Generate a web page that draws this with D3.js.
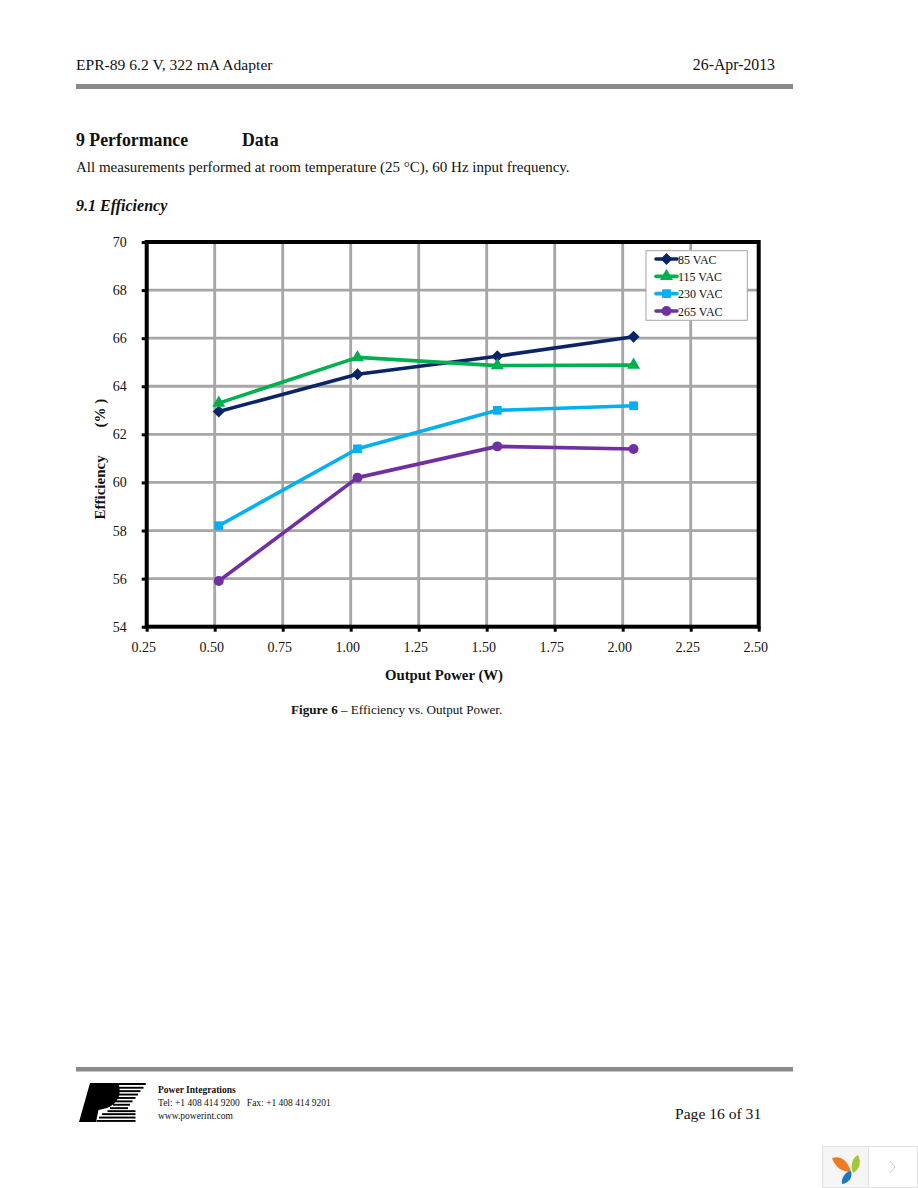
<!DOCTYPE html>
<html>
<head>
<meta charset="utf-8">
<title>EPR-89 Efficiency</title>
<script src="https://cdn.jsdelivr.net/npm/d3@7"></script>
<style>
  html, body { margin: 0; padding: 0; background: #fff; }
  svg { display: block; font-family: "Liberation Serif", serif; }
  text { fill: #111; }
  .grid line { stroke: #a6a6a6; stroke-width: 2.8; }
  .axis path { display: none; }
  .axis line { stroke: #000; stroke-width: 3; }
  .axis text { font-family: "Liberation Serif", serif; font-size: 14px; fill: #111; }
  .series { fill: none; stroke-width: 3.6; stroke-linejoin: round; }
</style>
</head>
<body>
<svg id="page" width="918" height="1188"></svg>
<script>
// values
const outputPower = [0.515, 1.025, 1.539, 2.04];
const vac85 = [62.95, 64.5, 65.25, 66.06];
const vac115 = [63.3, 65.2, 64.86, 64.88];
const vac230 = [58.2, 61.4, 63.0, 63.19];
const vac265 = [55.9, 60.2, 61.5, 61.39];
const seriesNames = ['85 VAC', '115 VAC', '230 VAC', '265 VAC'];
const seriesValues = [vac85, vac115, vac230, vac265];
const seriesColors = ['#0b2468', '#00b050', '#00b0f0', '#7030a0'];
const markerTypes = [d3.symbolSquare, d3.symbolTriangle, d3.symbolSquare, d3.symbolCircle];
const markerSizes = [72, 73, 76, 78];
const markerTurn = [45, 0, 0, 0];
const xTicks = [0.25, 0.5, 0.75, 1, 1.25, 1.5, 1.75, 2, 2.25, 2.5];
const yTicks = [54, 56, 58, 60, 62, 64, 66, 68, 70];

const svg = d3.select('#page');

const plot = { left: 146.7, right: 758.7, top: 242, bottom: 626.7 };
const x = d3.scaleLinear().domain([0.25, 2.5]).range([plot.left, plot.right]);
const y = d3.scaleLinear().domain([54, 70]).range([plot.bottom, plot.top]);

function label(txt, px, py, size, opts) {
  opts = opts || {};
  return svg.append('text').attr('x', px).attr('y', py)
    .attr('font-size', size)
    .attr('font-weight', opts.weight || null)
    .attr('font-style', opts.style || null)
    .attr('text-anchor', opts.anchor || null)
    .text(txt);
}

// page furniture
label('EPR-89 6.2 V, 322 mA Adapter', 76, 70, 15.6);
label('26-Apr-2013', 775, 70, 15.8, { anchor: 'end' });
svg.append('rect').attr('x', 76).attr('y', 84).attr('width', 717).attr('height', 5).attr('fill', '#8a8a8a');
label('9 Performance', 76, 146, 17.8, { weight: 'bold' });
label('Data', 242, 146, 17.8, { weight: 'bold' });
label('All measurements performed at room temperature (25 °C), 60 Hz input frequency.', 76, 172, 15);
label('9.1 Efficiency', 76, 211, 16, { weight: 'bold', style: 'italic' });

// grid
svg.append('g').attr('class', 'grid').selectAll('line').data(xTicks).join('line')
  .attr('x1', d => x(d)).attr('x2', d => x(d)).attr('y1', plot.top).attr('y2', plot.bottom);
svg.append('g').attr('class', 'grid').selectAll('line').data(yTicks).join('line')
  .attr('x1', plot.left).attr('x2', plot.right).attr('y1', d => y(d)).attr('y2', d => y(d));

// axes; the x labels sit a little left of their ticks in the original
svg.append('g').attr('class', 'axis').attr('transform', `translate(0,${plot.bottom})`)
  .call(d3.axisBottom(x).tickValues(xTicks).tickSize(5).tickPadding(10).tickFormat(d3.format('.2f')))
  .selectAll('text').attr('dx', -3.5);
svg.append('g').attr('class', 'axis').attr('transform', `translate(${plot.left},0)`)
  .call(d3.axisLeft(y).tickValues(yTicks).tickSize(5).tickPadding(15).tickFormat(d3.format('d')));

// plot frame
svg.append('rect').attr('x', plot.left).attr('y', plot.top)
  .attr('width', plot.right - plot.left).attr('height', plot.bottom - plot.top)
  .attr('fill', 'none').attr('stroke', '#000').attr('stroke-width', 4);

// series
const line = d3.line().x((d, i) => x(outputPower[i])).y(d => y(d));
seriesValues.forEach((vals, k) => {
  const g = svg.append('g');
  g.append('path').attr('class', 'series').attr('d', line(vals)).attr('stroke', seriesColors[k]);
  const sym = d3.symbol().type(markerTypes[k]).size(markerSizes[k]);
  g.selectAll('path.mark').data(vals).join('path').attr('class', 'mark')
    .attr('d', sym)
    .attr('fill', seriesColors[k])
    .attr('transform', (d, i) => `translate(${x(outputPower[i])},${y(d)}) rotate(${markerTurn[k]})`);
});

// legend
const legend = svg.append('g');
legend.append('rect').attr('x', 646).attr('y', 250.7).attr('width', 101.3).attr('height', 69.6)
  .attr('fill', '#fff').attr('stroke', '#a6a6a6').attr('stroke-width', 1);
const legendRow = d3.scalePoint().domain(seriesNames).range([259, 311]);
seriesNames.forEach((name, k) => {
  const ly = legendRow(name);
  legend.append('line').attr('x1', 656).attr('x2', 677).attr('y1', ly).attr('y2', ly)
    .attr('stroke', seriesColors[k]).attr('stroke-width', 3.6).attr('stroke-linecap', 'round');
  legend.append('path').attr('d', d3.symbol().type(markerTypes[k]).size(markerSizes[k]))
    .attr('fill', seriesColors[k]).attr('transform', `translate(666.5,${ly}) rotate(${markerTurn[k]})`);
  legend.append('text').attr('x', 678).attr('y', ly + 4.5).attr('font-size', 12).text(name);
});

// axis titles
label('Output Power (W)', 444, 680, 14.8, { weight: 'bold', anchor: 'middle' });
svg.append('text').attr('transform', 'translate(105,519.5) rotate(-90)')
  .attr('font-size', 15).attr('font-weight', 'bold').text('Efficiency');
svg.append('text').attr('transform', 'translate(105,427.5) rotate(-90)')
  .attr('font-size', 15).attr('font-weight', 'bold').text('(%\u00a0)');

// caption
const caption = label('', 291, 714, 13.1);
caption.append('tspan').attr('font-weight', 'bold').text('Figure 6');
caption.append('tspan').text(' – Efficiency vs. Output Power.');

// footer
svg.append('rect').attr('x', 76).attr('y', 1067).attr('width', 717).attr('height', 4.5).attr('fill', '#8a8a8a');
const logoStripes = [
  [1086.8, 117.5, 143.5], [1090.2, 118.5, 140.5], [1093.6, 119, 138], [1097, 117.5, 135.5],
  [1100.4, 115.5, 132.5], [1103.8, 113, 130], [1107.2, 110, 128], [1110.2, 107.5, 135.5],
  [1113.2, 102, 135.5], [1116.6, 99, 135.5], [1120, 96.5, 135.5]
];
const logo = svg.append('g');
logo.append('path').attr('fill', '#000')
  .attr('d', 'M90,1083H146L145.5,1085H119C121,1094 119,1103 107,1108L98.5,1110L96,1122H79Z');
logo.selectAll('rect').data(logoStripes).join('rect')
  .attr('x', d => d[1]).attr('y', d => d[0]).attr('width', d => d[2] - d[1]).attr('height', 1.9)
  .attr('fill', '#000');
label('Power Integrations', 158, 1093, 9.5, { weight: 'bold' });
label('Tel: +1 408 414 9200\u00a0\u00a0\u00a0Fax: +1 408 414 9201', 158, 1106, 9.5);
label('www.powerint.com', 158, 1119, 9.5);
label('Page 16 of 31', 675, 1119, 15.6);

// viewer badge, bottom right corner
const badge = svg.append('g');
badge.append('rect').attr('x', 822.5).attr('y', 1146.5).attr('width', 95).attr('height', 41)
  .attr('fill', '#fff').attr('stroke', '#e2e2e2');
badge.append('rect').attr('x', 822.5).attr('y', 1146.5).attr('width', 46).attr('height', 41)
  .attr('fill', '#f5f5f5').attr('stroke', '#e2e2e2');
badge.append('path').attr('d', 'M832,1158C840,1155 848,1160 851,1172C842,1172 835,1167 832,1158Z').attr('fill', '#ee7b22');
badge.append('path').attr('d', 'M858,1155C862,1162 859,1170 853,1173C850,1166 852,1158 858,1155Z').attr('fill', '#a4c639');
badge.append('path').attr('d', 'M851,1171C853,1177 849,1183 842,1184C841,1178 845,1172 851,1171Z').attr('fill', '#1a78c2');
badge.append('path').attr('d', 'M890,1161L895,1167L890,1173').attr('fill', 'none').attr('stroke', '#c8c8c8');
</script>
</body>
</html>
